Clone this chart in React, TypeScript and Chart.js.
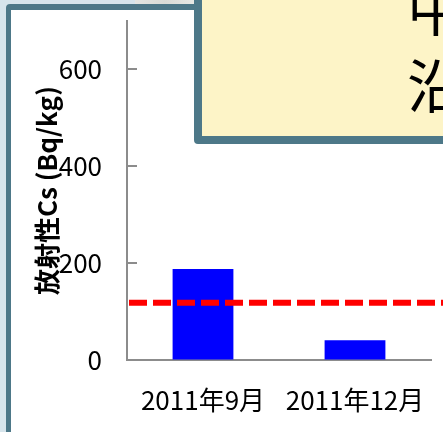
import React, { useEffect, useRef } from "react";
import { Chart, registerables } from "chart.js";

Chart.register(...registerables);

const categories = ["2011年9月", "2011年12月"];
const cesiumValues = [188, 41];
const limitValue = 118;
const yMin = 0;
const yMax = 700;
const yStep = 200;
const yTickValues = [0, 200, 400, 600];
const yTitle = "放射性Cs (Bq/kg)";
const calloutLines = ["中通り", "沿岸部"];

const FONT = "'Noto Sans CJK JP', 'Noto Sans', sans-serif";
const TEAL = "#4d7888";
const AXIS = "#8c8c8c";

const overlayPlugin = {
  id: "overlayMarks",
  afterDatasetsDraw(chart: any) {
    const { ctx, chartArea } = chart;
    const yScale = chart.scales.y;
    ctx.save();
    // inward tick marks on the value axis
    ctx.strokeStyle = AXIS;
    ctx.lineWidth = 2;
    ctx.setLineDash([]);
    yTickValues.forEach((v) => {
      const py = Math.round(yScale.getPixelForValue(v));
      ctx.beginPath();
      ctx.moveTo(chartArea.left - 1, py);
      ctx.lineTo(chartArea.left + 10, py);
      ctx.stroke();
    });
    // dashed limit line
    const y = yScale.getPixelForValue(limitValue);
    ctx.strokeStyle = "#ff0000";
    ctx.lineWidth = 6;
    ctx.setLineDash([18, 6]);
    ctx.beginPath();
    ctx.moveTo(chartArea.left + 2, y);
    ctx.lineTo(chart.width, y);
    ctx.stroke();
    ctx.restore();
  },
};

const zeroPadding = (s: any) => {
  s.paddingTop = 0;
  s.paddingBottom = 0;
  s.paddingLeft = 0;
  s.paddingRight = 0;
};

export default function App() {
  const canvasRef = useRef<HTMLCanvasElement | null>(null);

  useEffect(() => {
    if (!canvasRef.current) return;
    const chart = new Chart(canvasRef.current, {
      type: "bar",
      data: {
        labels: categories,
        datasets: [
          {
            data: cesiumValues,
            backgroundColor: "#0000ff",
            borderWidth: 0,
            barPercentage: 0.4,
            categoryPercentage: 1,
          },
        ],
      },
      options: {
        responsive: false,
        animation: false,
        layout: { padding: { top: 21, right: 12, left: 0, bottom: 0 } },
        plugins: {
          legend: { display: false },
          tooltip: { enabled: false },
        },
        scales: {
          x: {
            grid: { display: false },
            border: { display: true, color: AXIS, width: 2 },
            ticks: {
              color: "#000",
              padding: 17,
              font: { family: FONT, size: 26 },
              maxRotation: 0,
            },
            afterFit: (s: any) => {
              s.height = 72;
              zeroPadding(s);
            },
          },
          y: {
            min: yMin,
            max: yMax,
            grid: {
              drawOnChartArea: false,
              drawTicks: false,
            },
            border: { display: true, color: AXIS, width: 2 },
            ticks: {
              stepSize: yStep,
              includeBounds: false,
              color: "#000",
              padding: 25,
              font: { family: FONT, size: 26 },
            },
            title: {
              display: true,
              text: yTitle,
              color: "#000",
              padding: { top: 32, bottom: 0 },
              font: { family: FONT, size: 26, weight: "bold" },
            },
            afterFit: (s: any) => {
              s.width = 127;
              zeroPadding(s);
            },
          },
        },
      },
      plugins: [overlayPlugin],
    } as any);
    return () => chart.destroy();
  }, []);

  return (
    <div
      style={{
        position: "fixed",
        left: 0,
        top: 0,
        width: 443,
        height: 432,
        overflow: "hidden",
        background: "#d7e5ec",
      }}
    >
      <div
        style={{
          position: "absolute",
          left: 135,
          top: 0,
          width: 60,
          height: 4,
          background: "linear-gradient(90deg, #e4e6e2, #d9dbd6, #e8e9e5)",
        }}
      />
      <div
        style={{
          position: "absolute",
          left: 6,
          top: 4,
          width: 600,
          height: 600,
          boxSizing: "border-box",
          border: `6px solid ${TEAL}`,
          borderLeftWidth: 5,
          borderRadius: 4,
          background: "#ffffff",
        }}
      />
      <canvas
        ref={canvasRef}
        width={443}
        height={432}
        style={{ position: "absolute", left: 0, top: 0, width: 443, height: 432 }}
      />
      <div
        style={{
          position: "absolute",
          left: 194,
          top: -30,
          width: 400,
          height: 174,
          boxSizing: "border-box",
          border: `8px solid ${TEAL}`,
          borderRadius: 4,
          background: "#fdf4c7",
        }}
      />
      {calloutLines.map((t, i) => (
        <div
          key={i}
          style={{
            position: "absolute",
            left: 407,
            top: -23 + i * 77,
            fontFamily: FONT,
            fontSize: 58,
            lineHeight: "58px",
            color: "#000",
            whiteSpace: "nowrap",
          }}
        >
          {t}
        </div>
      ))}
    </div>
  );
}
